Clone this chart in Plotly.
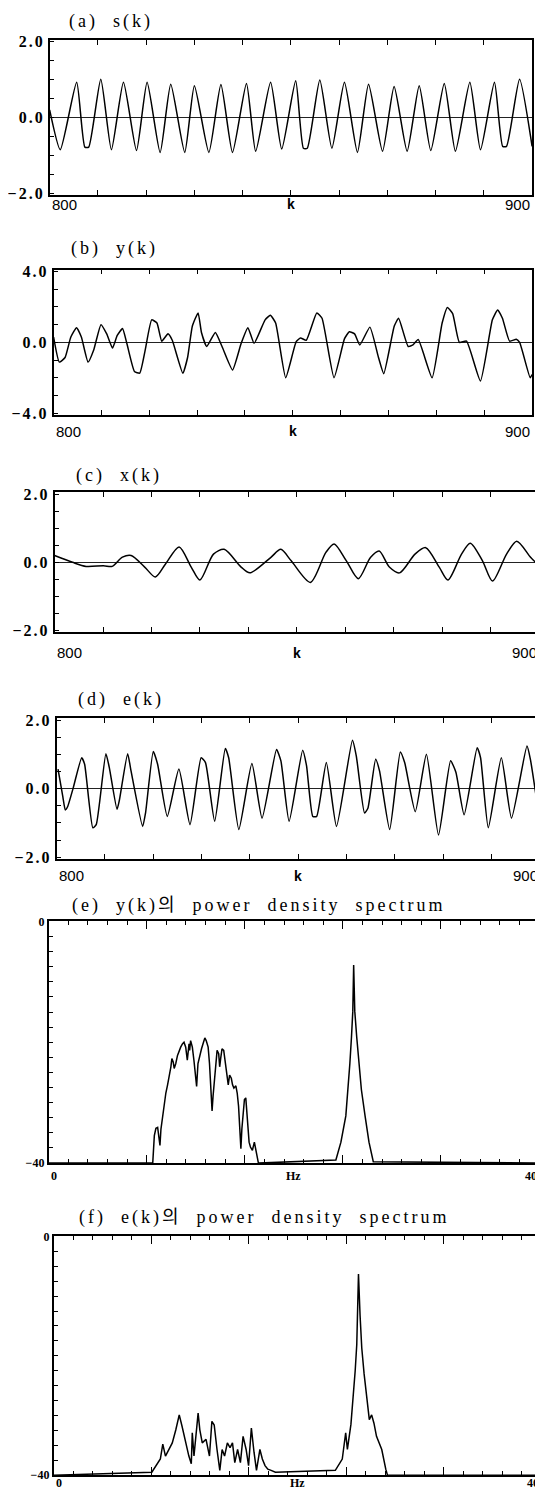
import plotly.graph_objects as go

# The page body has an 8px margin, so the figure is 8px smaller than the window
OFF = 8
W, H = 543 - OFF, 1497 - OFF

# ---------------- data ----------------
# (a) s(k)
k_s = [800.0, 802.2, 805.6, 807.3, 808.1, 810.6, 812.8, 815.3, 818.0, 820.2,
       822.9, 825.1, 828.0, 830.0, 833.0, 835.5, 837.9, 840.8, 842.7, 845.8,
       848.1, 851.0, 852.6, 853.4, 856.0, 858.5, 861.1, 863.8, 866.1, 869.0,
       871.4, 874.1, 876.6, 879.0, 881.8, 884.1, 887.1, 889.3, 892.2, 893.9,
       894.7, 897.4, 900.0]
s_vals = [0.20, -0.85, 0.93, -0.78, -0.78, 1.01, -0.85, 0.93, -0.87, 0.93,
          -0.92, 0.88, -0.92, 0.84, -0.92, 0.87, -0.92, 0.90, -0.89, 0.93,
          -0.83, 0.97, -0.81, -0.81, 0.99, -0.81, 0.93, -0.92, 0.88, -0.89,
          0.82, -0.89, 0.84, -0.87, 0.90, -0.89, 0.93, -0.85, 0.93, -0.76,
          -0.76, 1.01, -0.76]

# (b) y(k)
k_y = [800.0, 801.2, 802.4, 803.6, 804.8, 805.8, 807.2, 808.4, 809.9, 811.1,
       812.3, 813.3, 814.4, 815.3, 816.9, 818.0, 819.1, 820.5, 821.6, 822.6,
       823.9, 824.8, 827.0, 828.0, 829.0, 830.2, 830.9, 832.0, 833.8, 835.2,
       837.4, 839.2, 840.6, 841.9, 844.2, 845.3, 846.4, 848.5, 850.7, 851.6,
       852.8, 855.0, 856.1, 858.6, 860.8, 861.8, 862.9, 864.0, 866.1, 867.9,
       869.0, 871.2, 872.1, 874.1, 875.1, 876.2, 879.1, 881.2, 882.3, 883.4,
       884.8, 886.3, 889.2, 891.7, 892.8, 893.8, 895.3, 896.7, 897.4, 899.6,
       900.0]
y_vals = [0.30, -1.11, -0.85, 0.30, 0.83, 0.30, -1.11, -0.41, 1.00, 0.48,
          -0.32, 0.39, 0.78, -0.05, -1.64, -1.73, -0.49, 1.27, 1.09, 0.07,
          0.48, 0.12, -1.73, -0.85, 0.92, 1.66, 0.56, -0.23, 0.56, -0.23,
          -1.55, -0.05, 0.83, -0.05, 1.27, 1.53, 1.09, -1.99, 0.04, 0.25,
          0.12, 1.66, 1.36, -1.99, 0.21, 0.60, 0.48, -0.14, 0.86, -0.85,
          -1.76, 0.92, 1.36, -0.23, -0.14, 0.16, -1.99, 1.09, 1.97, 1.62,
          0.00, 0.07, -2.17, 1.27, 1.83, 1.36, 0.07, 0.18, 0.00, -1.99,
          -1.81]

# (c) x(k)
k_x = [800.0, 803.7, 806.5, 810.1, 811.9, 814.0, 815.8, 818.6, 820.8, 822.9,
       825.7, 828.2, 830.0, 832.8, 835.0, 838.5, 840.3, 844.6, 846.7, 848.8,
       852.8, 856.0, 857.7, 860.2, 862.7, 865.2, 867.0, 869.1, 871.2, 874.4,
       876.6, 879.4, 881.2, 884.0, 885.8, 888.3, 890.4, 893.3, 895.4, 898.3,
       900.0]
x_vals = [0.20, 0.00, -0.12, -0.10, -0.12, 0.15, 0.20, -0.14, -0.43, -0.05,
          0.45, -0.14, -0.52, 0.24, 0.38, -0.14, -0.31, 0.14, 0.38, 0.05,
          -0.59, 0.29, 0.54, 0.05, -0.48, 0.14, 0.33, -0.14, -0.31, 0.24,
          0.43, -0.14, -0.52, 0.24, 0.56, 0.05, -0.55, 0.24, 0.62, 0.14,
          -0.10]

# (d) e(k)
k_e = [800.3, 801.3, 801.8, 802.3, 803.4, 805.2, 805.8, 807.5, 808.2, 810.2,
       810.9, 812.5, 813.0, 814.7, 815.4, 817.8, 818.4, 820.0, 820.9, 822.9,
       825.3, 827.6, 829.9, 830.8, 832.7, 834.9, 835.6, 837.7, 840.4, 842.5,
       845.5, 846.4, 848.1, 850.9, 851.7, 853.0, 853.8, 855.8, 857.9, 861.2,
       862.0, 863.7, 864.4, 866.0, 866.8, 868.9, 871.1, 872.0, 874.2, 876.5,
       879.0, 881.5, 882.6, 884.3, 887.0, 887.7, 889.3, 892.0, 894.1, 897.3,
       898.0, 899.9]
e_vals = [0.57, -0.24, -0.62, -0.52, 0.00, 0.90, 0.71, -1.14, -1.05, 1.02,
          0.62, -0.60, -0.33, 1.02, 0.52, -1.10, -0.71, 1.08, 0.71, -0.81,
          0.57, -1.05, 0.90, 0.76, -0.95, 1.17, 0.90, -1.19, 0.73, -0.86,
          1.14, 0.81, -0.95, 1.12, 0.67, -0.81, -0.81, 0.76, -1.10, 1.41,
          0.95, -0.71, -0.57, 0.86, 0.52, -1.19, 1.07, 0.76, -0.67, 1.00,
          -1.35, 0.81, 0.48, -0.76, 1.19, 0.90, -1.14, 0.90, -0.86, 1.24,
          0.86, -0.90]

# (e) power density spectrum of y(k)  [Hz, dB]
f_ypsd = [0.0, 8.49, 8.62, 8.75, 8.89, 8.97, 9.08, 9.16, 9.29, 9.43,
          9.56, 9.70, 9.83, 9.97, 10.05, 10.16, 10.24, 10.37, 10.51, 10.64,
          10.77, 10.91, 11.04, 11.18, 11.31, 11.45, 11.50, 11.58, 11.72, 11.85,
          11.99, 12.07, 12.18, 12.31, 12.47, 12.63, 12.74, 12.85, 13.01, 13.12,
          13.23, 13.33, 13.41, 13.52, 13.66, 13.74, 13.87, 13.95, 14.03, 14.14,
          14.28, 14.41, 14.55, 14.65, 14.76, 14.90, 15.00, 15.11, 15.27, 15.38,
          15.49, 15.60, 15.68, 15.76, 15.87, 15.97, 16.08, 16.16, 16.24, 16.35,
          16.46, 16.62, 16.78, 16.89, 17.00, 17.11, 23.43, 23.84, 24.24, 24.43,
          24.57, 24.70, 24.81, 24.88, 24.95, 24.97, 25.13, 25.32, 25.51, 25.81,
          26.13, 26.48, 40.0]
ypsd_db = [-40.0, -40.0, -35.45, -34.25, -34.09, -35.45, -37.07, -34.36, -32.19, -30.57,
           -28.40, -27.04, -25.69, -24.06, -22.71, -23.25, -24.33, -23.52, -22.17, -21.35,
           -20.81, -20.27, -20.00, -20.81, -22.98, -20.27, -21.35, -19.73, -20.81, -22.98,
           -25.15, -27.31, -23.52, -22.17, -21.08, -20.00, -19.29, -19.73, -20.81, -23.52,
           -27.31, -31.38, -28.94, -26.77, -23.52, -21.35, -21.89, -24.06, -22.71, -21.08,
           -21.35, -23.52, -25.69, -27.04, -25.42, -25.96, -27.04, -27.59, -27.21, -28.40,
           -30.57, -34.36, -37.61, -34.36, -31.65, -29.48, -29.21, -31.65, -34.36, -36.53,
           -37.34, -37.88, -36.53, -37.61, -39.24, -40.0, -39.5, -36.53, -32.19, -27.86,
           -23.52, -19.18, -14.85, -7.2, -13.5, -14.85, -19.18, -23.52, -27.86, -32.19,
           -36.53, -39.78, -40.0]

# (f) power density spectrum of e(k)  [Hz, dB]
f_epsd = [0.0, 8.06, 8.76, 8.96, 9.18, 9.47, 9.74, 10.03, 10.31, 10.54,
          10.82, 11.10, 11.30, 11.38, 11.52, 11.66, 11.86, 12.00, 12.20, 12.51,
          12.79, 12.99, 13.18, 13.41, 13.64, 13.83, 14.03, 14.26, 14.48, 14.68,
          14.87, 15.10, 15.33, 15.55, 15.80, 16.00, 16.23, 16.45, 16.65, 16.93,
          17.13, 17.35, 17.58, 17.85, 18.20, 23.12, 23.69, 23.97, 24.11, 24.40,
          24.61, 24.75, 24.88, 24.93, 25.02, 25.15, 25.29, 25.48, 25.69, 25.91,
          26.10, 26.29, 26.50, 26.93, 27.26, 27.40, 40.0]
epsd_db = [-40.0, -39.5, -37.3, -34.8, -36.8, -35.7, -34.6, -32.4, -29.9, -31.8,
           -34.6, -36.8, -38.1, -32.9, -36.8, -34.0, -29.6, -32.4, -34.6, -34.0,
           -36.8, -31.0, -31.6, -35.7, -39.2, -35.7, -36.8, -34.6, -35.4, -34.6,
           -37.9, -35.7, -37.9, -33.5, -35.7, -38.4, -32.1, -36.2, -39.2, -35.7,
           -37.3, -38.4, -39.0, -39.2, -39.5, -39.2, -37.3, -32.9, -35.7, -31.5,
           -26.9, -22.5, -18.1, -13.2, -6.3, -13.2, -18.7, -23.0, -26.9, -30.7,
           -29.9, -31.3, -33.5, -35.7, -39.0, -40.0, -40.0]

# tick values / labels
ticks_2 = [-2.0, -1.5, -1.0, -0.5, 0.0, 0.5, 1.0, 1.5, 2.0]
text_2 = ["−2.0", "", "", "", "0.0", "", "", "", "2.0"]
ticks_4 = [-4, -3, -2, -1, 0, 1, 2, 3, 4]
text_4 = ["−4.0", "", "", "", "0.0", "", "", "", "4.0"]
ticks_db = [-40, -37.5, -35, -32.5, -30, -27.5, -25, -22.5, -20, -17.5,
            -15, -12.5, -10, -7.5, -5, -2.5, 0]
text_db = ["−40"] + [""] * 15 + ["0"]
k_labels = [(800, "800", "left"), (850, "k", "center"), (900, "900", "right")]
hz_labels = [(0, "0", "left"), (20, "Hz", "center"), (40, "40", "right")]


def fx(px):
    return (px - OFF) / W


def fy(py):
    return 1 - (py - OFF) / H


def spaced(t, ls=2):
    return f"<span style='letter-spacing:{ls}px'>{t}</span>"


TITLE_FONT = dict(family="Liberation Serif, 'Noto Sans CJK KR', serif", size=18, color="black")
NB = "\u00a0"

panels = [
    dict(x=k_s, y=s_vals, box=(46, 533, 33, 190), yr=2.05, tv=ticks_2, tt=text_2,
         laby=199, title="(a)" + NB * 2 + "s(k)", tpos=(64, 15), shape="spline", sm=0.55, kind="t"),
    dict(x=k_y, y=y_vals, box=(50, 533, 265, 412), yr=4.1, tv=ticks_4, tt=text_4,
         laby=428, title="(b)" + NB * 2 + "y(k)", tpos=(66, 244), shape="spline", sm=0.45, kind="t"),
    dict(x=k_x, y=x_vals, box=(51, 540, 490, 631), yr=2.05, tv=ticks_2, tt=text_2,
         laby=652, title="(c)" + NB * 2 + "x(k)", tpos=(71, 473), shape="spline", sm=0.8, kind="t"),
    dict(x=k_e, y=e_vals, box=(53, 541, 718, 860), yr=2.05, tv=ticks_2, tt=text_2,
         laby=877, title="(d)" + NB * 2 + "e(k)", tpos=(73, 699), shape="spline", sm=0.5, kind="t"),
    dict(x=f_ypsd, y=ypsd_db, box=(45, 540, 923, 1167), tv=ticks_db, tt=text_db,
         laby=1180, title="(e)" + NB * 2 + "y(k)의" + NB * 2 + "power" + NB * 2 + "density" + NB * 2 + "spectrum",
         tpos=(67, 907), shape="linear", sm=0, kind="f"),
    dict(x=f_epsd, y=epsd_db, box=(50, 542, 1241, 1482), tv=ticks_db, tt=text_db,
         laby=1490, title="(f)" + NB * 2 + "e(k)의" + NB * 2 + "power" + NB * 2 + "density" + NB * 2 + "spectrum",
         tpos=(74, 1222), shape="linear", sm=0, kind="f"),
]

fig = go.Figure()
annotations = []
layout_axes = {}

for i, p in enumerate(panels, start=1):
    xa = "xaxis" if i == 1 else f"xaxis{i}"
    ya = "yaxis" if i == 1 else f"yaxis{i}"
    xr = "x" if i == 1 else f"x{i}"
    yr_ = "y" if i == 1 else f"y{i}"
    x0, x1, y0, y1 = p["box"]
    xdom = [fx(x0), min(fx(x1), 1.0)]
    ydom = [max(fy(y1), 0.0), fy(y0)]

    line = dict(color="black", width=1.5, shape=p["shape"])
    if p["shape"] == "spline":
        line["smoothing"] = p["sm"]
    fig.add_trace(go.Scatter(
        x=p["x"], y=p["y"], mode="lines", xaxis=xr, yaxis=yr_, line=line,
        showlegend=False, hoverinfo="skip", cliponaxis=True))

    if p["kind"] == "t":
        layout_axes[xa] = dict(
            domain=xdom, anchor=yr_, range=[800, 900], tickmode="linear", tick0=800, dtick=10,
            ticks="inside", ticklen=5, tickwidth=1.2, tickcolor="black",
            showticklabels=False, showline=True, linecolor="black", linewidth=1.6,
            mirror="allticks", showgrid=False, zeroline=False, fixedrange=True)
        layout_axes[ya] = dict(
            domain=ydom, anchor=xr, range=[-p["yr"], p["yr"]], tickmode="array",
            tickvals=p["tv"], ticktext=[spaced(t, 2) if t else "" for t in p["tt"]],
            ticks="inside", ticklen=5, tickwidth=1.2,
            tickcolor="black", showline=True, linecolor="black", linewidth=1.6, mirror=True,
            showgrid=False, zeroline=True, zerolinecolor="#222", zerolinewidth=1,
            tickfont=dict(family="Liberation Serif", size=16, color="black", weight="bold"),
            fixedrange=True)
        for kv, txt, anc in k_labels:
            annotations.append(dict(
                x=kv, y=fy(p["laby"]), xref=xr, yref="paper", text=txt, showarrow=False,
                xanchor=anc, yanchor="middle",
                font=dict(family="Liberation Sans", size=15 if txt != "k" else 14,
                          color="black", weight="bold" if txt == "k" else "normal")))
    else:
        layout_axes[xa] = dict(
            domain=xdom, anchor=yr_, range=[0, 40], tickmode="linear", tick0=0, dtick=8,
            ticks="inside", ticklen=8, tickwidth=1.3, tickcolor="black",
            minor=dict(dtick=1.6, ticks="inside", ticklen=4, tickwidth=1.1, tickcolor="black"),
            showticklabels=False, showline=True, linecolor="black", linewidth=1.6,
            mirror="allticks", showgrid=False, zeroline=False, fixedrange=True)
        layout_axes[ya] = dict(
            domain=ydom, anchor=xr, range=[-40, 0], tickmode="array",
            tickvals=p["tv"], ticktext=p["tt"], ticks="inside", ticklen=5, tickwidth=1.2,
            tickcolor="black", showline=True, linecolor="black", linewidth=1.6, mirror=True,
            showgrid=False, zeroline=False,
            tickfont=dict(family="Liberation Serif", size=12, color="black", weight="bold"),
            fixedrange=True)
        for fv, txt, anc in hz_labels:
            annotations.append(dict(
                x=fv, y=fy(p["laby"]), xref=xr, yref="paper", text=txt, showarrow=False,
                xanchor=anc, yanchor="middle",
                font=dict(family="Liberation Serif", size=12, color="black", weight="bold")))

    annotations.append(dict(
        x=fx(p["tpos"][0]), y=fy(p["tpos"][1]), xref="paper", yref="paper",
        text=spaced(p["title"], 3), showarrow=False,
        xanchor="left", yanchor="middle", font=TITLE_FONT))

fig.update_layout(
    width=W, height=H, margin=dict(l=0, r=0, t=0, b=0),
    paper_bgcolor="white", plot_bgcolor="white",
    annotations=annotations, **layout_axes)

fig.write_html("out.html")
